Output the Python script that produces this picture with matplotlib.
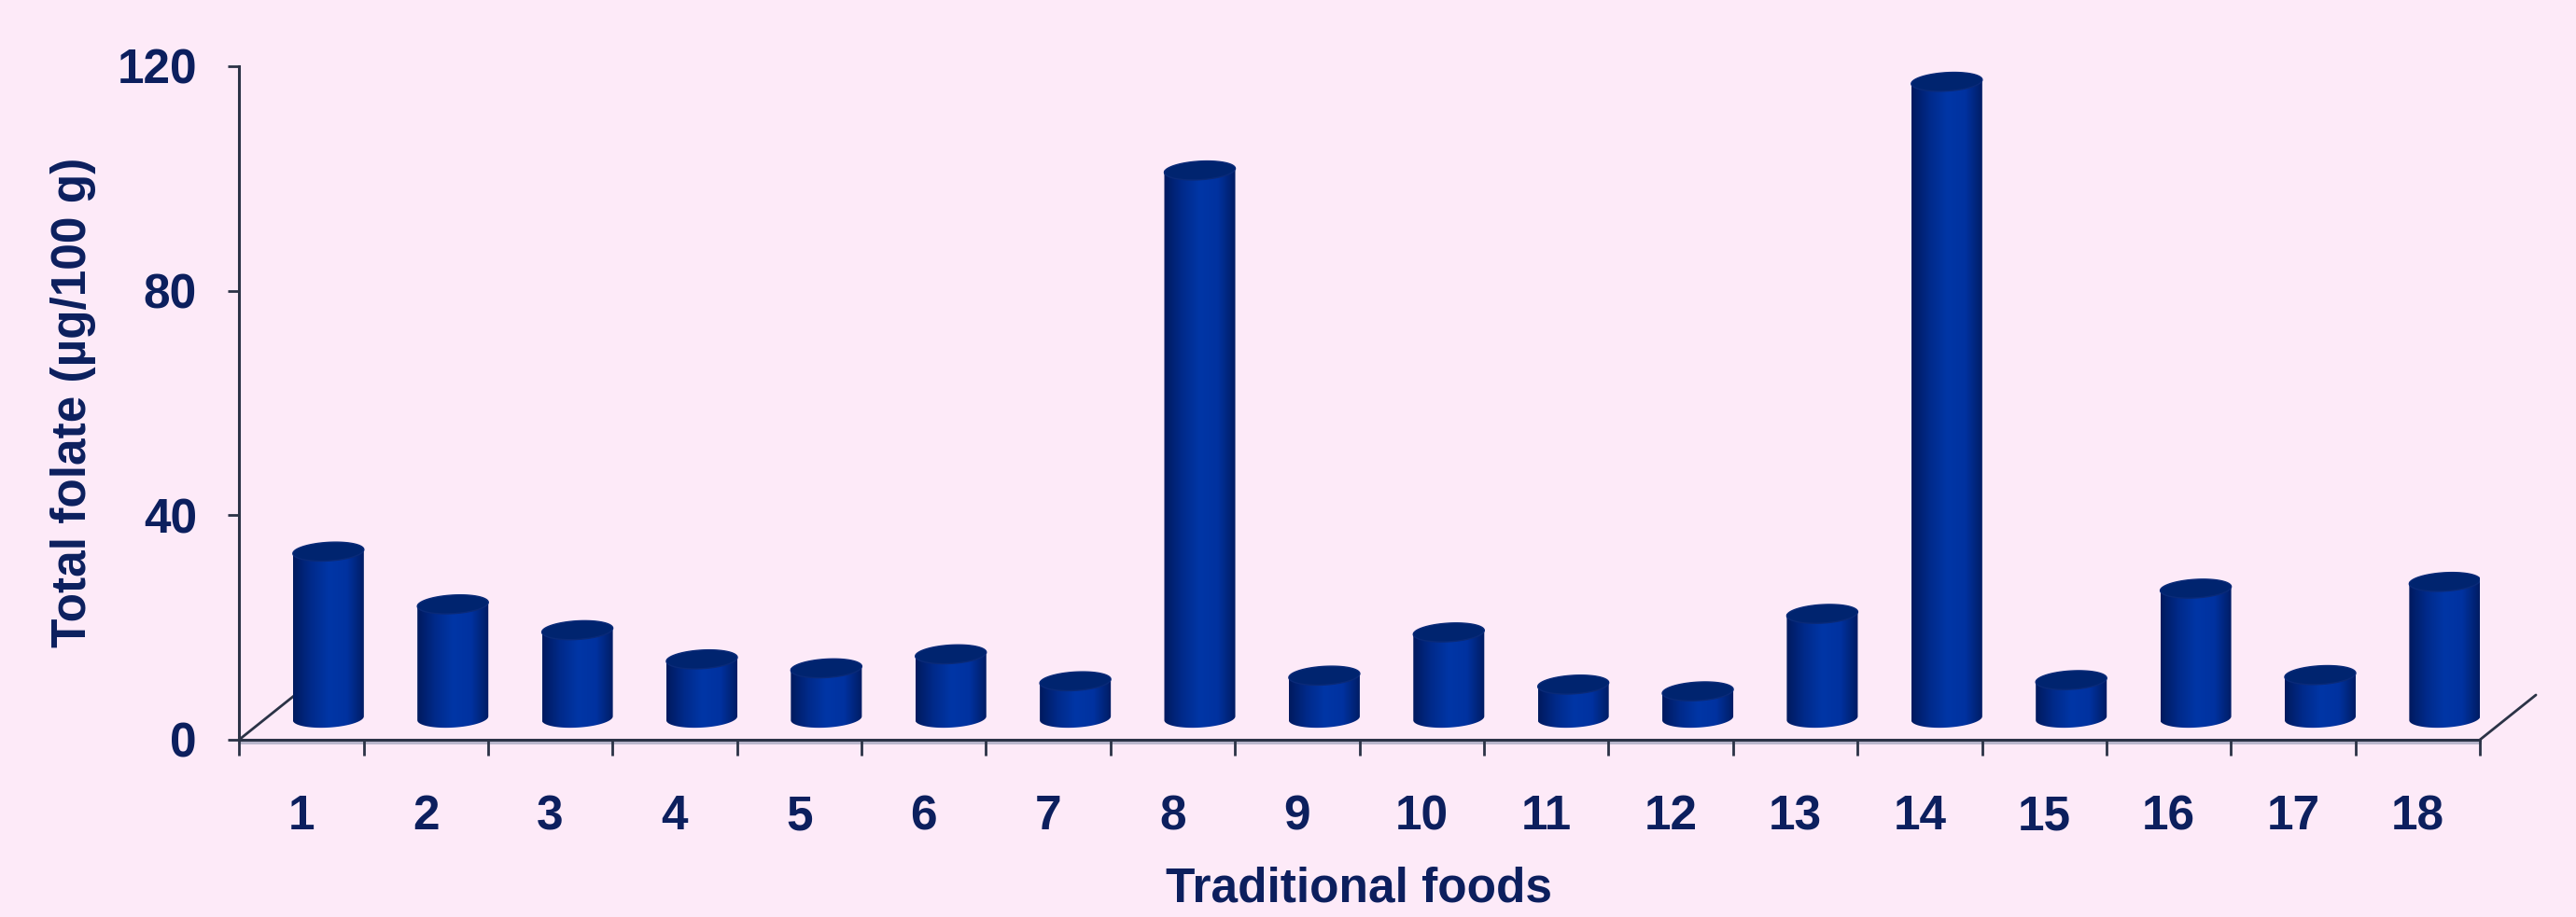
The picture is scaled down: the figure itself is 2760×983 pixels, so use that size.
import numpy as np
import matplotlib
matplotlib.use("Agg")
import matplotlib.pyplot as plt
from matplotlib.path import Path
from matplotlib.patches import PathPatch, Polygon, ConnectionPatch
from matplotlib.colors import LinearSegmentedColormap
from matplotlib.transforms import ScaledTranslation

# data
foods = [str(i) for i in range(1, 19)]
folate = [29.7, 20.3, 15.7, 10.5, 8.9, 11.4, 6.6, 97.6, 7.6,
          15.3, 6.0, 4.8, 18.6, 113.4, 6.8, 23.1, 7.7, 24.3]
yticks = [0, 40, 80, 120]

bg = "#fdeaf8"
navy = "#0c1f5e"
axis_col = "#2b3346"

plt.rcParams['font.family'] = ['Liberation Sans', 'DejaVu Sans']
plt.rcParams['font.weight'] = 'bold'

fig = plt.figure(figsize=(27.6, 9.83), dpi=100, facecolor=bg)
ax = fig.add_axes([0.0928, 0.1933, 0.8699, 0.7345])
ax.set_facecolor(bg)

ax.set_xlim(-0.5, len(foods) - 0.5)
ax.set_ylim(0, 120)

# depth offset of the cylinders (pseudo 3d)
trans = ax.transData + ScaledTranslation(0.29, 0.23, fig.dpi_scale_trans)

cmap = LinearSegmentedColormap.from_list(
    "cyl", ["#001a5e", "#002a8a", "#0036a6", "#0032a0", "#001c62"])
grad = np.linspace(0, 1, 256)[None, :]

w = 0.57      # bar width (category units)
eh = 1.65     # half height of ellipse (value units)
tilt = 0.35   # right side of ellipse higher
t = np.linspace(0, np.pi, 60)

for i, v in enumerate(folate):
    x0, x1 = i - w / 2, i + w / 2
    # body + bottom half ellipse
    bx = i - (w / 2) * np.cos(t)
    by = -eh * np.sin(t) - tilt * np.cos(t)
    verts = [(x0, v)] + list(zip(bx, by)) + [(x1, v), (x0, v)]
    codes = [Path.MOVETO] + [Path.LINETO] * (len(verts) - 2) + [Path.CLOSEPOLY]
    body = PathPatch(Path(verts, codes), facecolor="none", edgecolor="none",
                     transform=trans)
    ax.add_patch(body)
    im = ax.imshow(grad, cmap=cmap, aspect="auto", extent=[x0, x1, -eh - 1, v],
                   transform=trans, zorder=3, interpolation="bilinear")
    im.set_clip_path(body)
    # top face
    tt = np.linspace(0, 2 * np.pi, 120)
    tx = i + (w / 2) * np.cos(tt)
    ty = v + eh * np.sin(tt) + tilt * np.cos(tt)
    ax.add_patch(Polygon(np.column_stack([tx, ty]), closed=True,
                         facecolor="#00246f", edgecolor="#0a2a78", lw=1.0,
                         transform=trans, zorder=4))

# axes styling
for s in ["top", "right"]:
    ax.spines[s].set_visible(False)
for s in ["left", "bottom"]:
    ax.spines[s].set_color(axis_col)
    ax.spines[s].set_linewidth(2.2)

# light shade under the floor edge
shade = ax.transAxes + ScaledTranslation(0, -0.03, fig.dpi_scale_trans)
ax.plot([0, 1], [0, 0], transform=shade, color="#b9b6cc", lw=2.2,
        clip_on=False, zorder=1)

ax.set_yticks(yticks)
ax.set_yticklabels([str(v) for v in yticks])
ax.tick_params(axis="y", direction="out", length=8.5, width=2, color=axis_col,
               pad=24, labelsize=37, labelcolor=navy)

ax.set_xticks(np.arange(len(foods) + 1) - 0.5)
ax.set_xticklabels([])
ax.tick_params(axis="x", which="major", direction="out", length=12, width=2,
               color=axis_col)
ax.set_xticks(np.arange(len(foods)), minor=True)
ax.set_xticklabels(foods, minor=True)
ax.tick_params(axis="x", which="minor", length=0, pad=42, labelsize=37,
               labelcolor=navy)

# floor depth lines
back = ax.transAxes + ScaledTranslation(0.60, 0.48, fig.dpi_scale_trans)
for xa in [0, 1]:
    con = ConnectionPatch(xyA=(xa, 0), coordsA=ax.transAxes,
                          xyB=(xa, 0), coordsB=back,
                          color=axis_col, lw=2.0, zorder=1)
    ax.add_artist(con)

fig.text(0.0283, 0.5616, "Total folate (µg/100 g)", rotation=90,
         ha="center", va="center", fontsize=37, color=navy, fontweight="bold")
fig.text(0.5275, 0.0305, "Traditional foods", ha="center", va="center",
         fontsize=37, color=navy, fontweight="bold")

fig.savefig("out.png", dpi=100, facecolor=bg)
